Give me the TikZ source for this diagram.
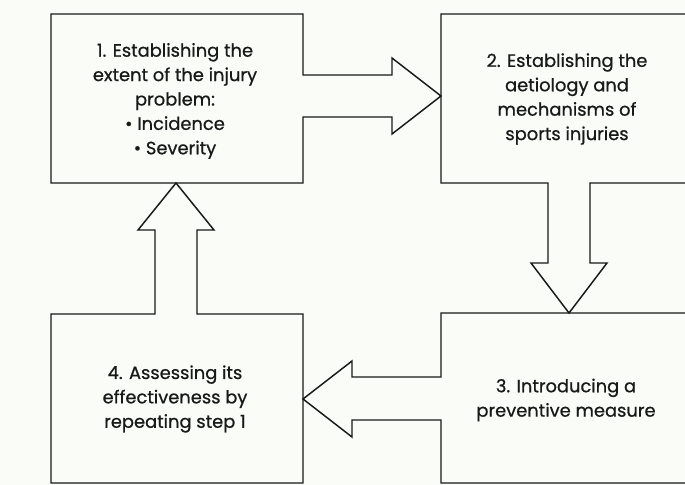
\documentclass[tikz,border=0pt]{standalone}
\usepackage{fontspec}
\setmainfont{Poppins}[FakeBold=0.7]
\definecolor{paper}{RGB}{250,252,248}
\definecolor{ink}{RGB}{25,25,25}
\begin{document}
\begin{tikzpicture}[x=0.75pt,y=-0.75pt,
  outline/.style={draw=ink,line width=1.1pt,line join=miter},
  label/.style={align=center,font=\fontsize{13.4}{18.3}\selectfont,text=ink,inner sep=0pt}]
\fill[paper] (0,0) rectangle (685,485);
\useasboundingbox (0,0) rectangle (685,485);
\clip (0,0) rectangle (685,485);
% box 1 with arrow to box 2
\draw[outline] (51,14) -- (303,14) -- (303,75) -- (392,75) -- (392,58) -- (441,96)
  -- (392,134) -- (392,117) -- (303,117) -- (303,183) -- (51,183) -- cycle;
% box 2 with arrow to box 3
\draw[outline] (700,14) -- (441,14) -- (441,183) -- (548,183) -- (548,263) -- (531,263)
  -- (569,313) -- (607,263) -- (590,263) -- (590,183) -- (700,183);
% box 3 with arrow to box 4
\draw[outline] (700,313) -- (441,313) -- (441,377) -- (352,377) -- (352,361) -- (303,399)
  -- (352,437) -- (352,420) -- (441,420) -- (441,483) -- (700,483);
% box 4 with arrow to box 1
\draw[outline] (51,314) -- (155,314) -- (155,230) -- (138,230) -- (176,183) -- (214,230)
  -- (197,230) -- (197,314) -- (303,314) -- (303,483) -- (51,483) -- cycle;
\node[label] (t1) at (175,101) {1. Establishing the\\extent of the injury\\problem:\\\textbullet\ Incidence\\\textbullet\ Severity};
\node[label] (t2) at (567,99) {2. Establishing the\\aetiology and\\mechanisms of\\sports injuries};
\node[label] (t3) at (566,400) {3. Introducing a\\preventive measure};
\node[label] (t4) at (175,399) {4. Assessing its\\effectiveness by\\repeating step 1};
\end{tikzpicture}
\end{document}
